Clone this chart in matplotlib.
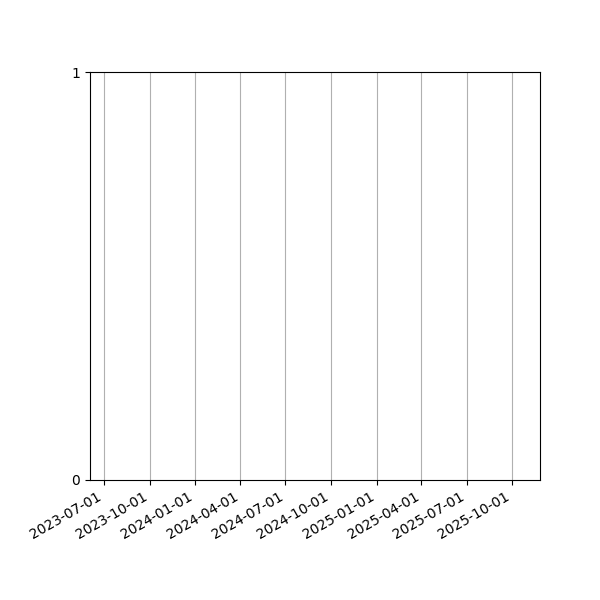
import pandas as pd
import matplotlib
matplotlib.use("Agg")
import matplotlib.pyplot as plt
import matplotlib.dates as mdates

# empty series - no data points drawn, only the date axis
dates = pd.to_datetime([])
values = []

# visible window and tick positions
x_start = "2023-06-03"
x_end = "2025-11-26"
tick_dates = ["2023-07-01", "2023-10-01", "2024-01-01", "2024-04-01",
              "2024-07-01", "2024-10-01", "2025-01-01", "2025-04-01",
              "2025-07-01", "2025-10-01"]
y_ticks = [0, 1]

fig, ax = plt.subplots(figsize=(6, 6), dpi=100)
ax.plot(dates, values)
ax.set_xlim(pd.Timestamp(x_start), pd.Timestamp(x_end))
ax.set_ylim(y_ticks[0], y_ticks[-1])
ax.set_yticks(y_ticks)
ax.set_xticks(pd.to_datetime(tick_dates))
ax.xaxis.set_major_formatter(mdates.DateFormatter("%Y-%m-%d"))
ax.grid(True, axis="x")

fig.autofmt_xdate()
fig.subplots_adjust(left=0.15, right=0.9, top=0.88, bottom=0.2)
fig.savefig("out.png", dpi=100)
